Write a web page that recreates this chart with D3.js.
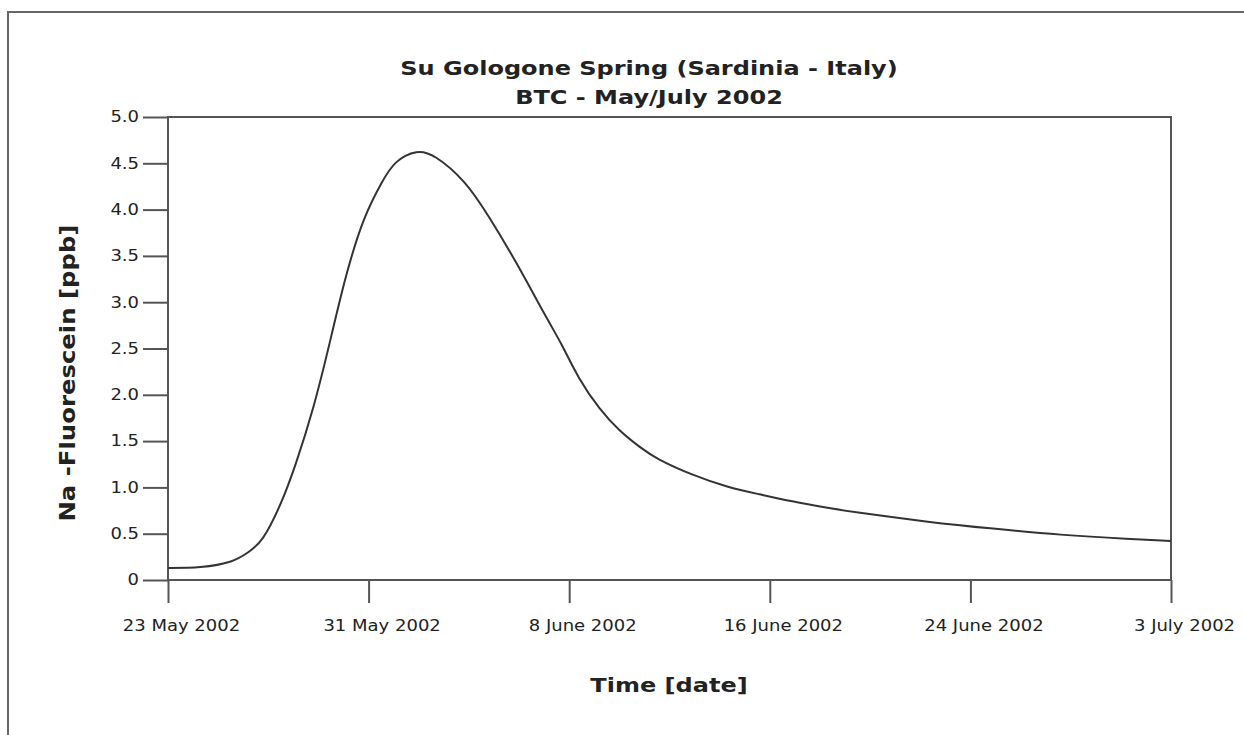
<!DOCTYPE html>
<html>
<head>
<meta charset="utf-8">
<script src="https://cdn.jsdelivr.net/npm/d3@7"></script>
<style>
  body { margin: 0; background: #fff; }
  svg { display: block; }
  text { font-family: "DejaVu Sans", Verdana, sans-serif; fill: #222; }
</style>
</head>
<body>
<div id="chart"></div>
<script>
// days since 23 May 2002 and Na-Fluorescein concentration (ppb)
var days = [0, 1.3, 2.5, 3.2, 3.8, 4.5, 5.1, 5.8, 6.5, 7.1, 7.8, 8.5, 9.1, 9.9, 10.7,
  11.8, 12.8, 13.9, 15.0, 15.7, 16.4, 17.2, 18.0, 18.8, 19.6, 20.9, 22.3, 23.6, 24.9,
  26.3, 27.6, 30.3, 32.9, 35.6, 38.2, 40];
var fluo = [0.13, 0.14, 0.2, 0.3, 0.46, 0.83, 1.26, 1.87, 2.62, 3.28, 3.88, 4.28, 4.51, 4.62, 4.56,
  4.30, 3.92, 3.42, 2.88, 2.54, 2.18, 1.86, 1.62, 1.44, 1.30, 1.14, 1.01, 0.925, 0.85,
  0.78, 0.725, 0.63, 0.555, 0.49, 0.445, 0.42];

var xTickDays = [0, 8, 16, 24, 32, 40];
var xTickLabels = ['23 May 2002', '31 May 2002', '8 June 2002', '16 June 2002', '24 June 2002', '3 July 2002'];
var yTicks = [0, 0.5, 1.0, 1.5, 2.0, 2.5, 3.0, 3.5, 4.0, 4.5, 5.0];

var titleLines = ['Su Gologone Spring (Sardinia - Italy)', 'BTC - May/July 2002'];
var xTitle = 'Time [date]';
var yTitle = 'Na -Fluorescein [ppb]';

(function() {
  var W = 1244, H = 735;
  var left = 168, right = 1171, top = 117, bottom = 580;
  var stretch = 1.2; // the original text looks widened horizontally

  var svg = d3.select('#chart').append('svg')
    .attr('width', W).attr('height', H);

  // outer frame (only left + top edges are visible)
  svg.append('path')
    .attr('d', 'M8,740 L8,12 L1250,12')
    .attr('fill', 'none')
    .attr('stroke', '#666')
    .attr('stroke-width', 2);

  var x = d3.scaleLinear().domain([0, 40]).range([left, right]);
  var y = d3.scaleLinear().domain([0, 5]).range([bottom, top]);

  function widen(sel) {
    sel.each(function() {
      var len = this.getComputedTextLength();
      d3.select(this).attr('textLength', len * stretch).attr('lengthAdjust', 'spacingAndGlyphs');
    });
  }

  // plot box
  svg.append('rect')
    .attr('x', left).attr('y', top)
    .attr('width', right - left).attr('height', bottom - top)
    .attr('fill', 'none')
    .attr('stroke', '#555')
    .attr('stroke-width', 2);

  var yAxis = svg.append('g')
    .attr('transform', 'translate(' + left + ',0)')
    .call(d3.axisLeft(y).tickValues(yTicks).tickSize(25).tickPadding(4)
      .tickFormat(function(d) { return d === 0 ? '0' : d.toFixed(1); }));

  var xAxis = svg.append('g')
    .attr('transform', 'translate(0,' + bottom + ')')
    .call(d3.axisBottom(x).tickValues(xTickDays).tickSize(23).tickPadding(17)
      .tickFormat(function(d, i) { return xTickLabels[i]; }));

  [yAxis, xAxis].forEach(function(g) {
    g.select('.domain').remove();
    g.selectAll('.tick line').attr('stroke', '#555').attr('stroke-width', 2);
    g.selectAll('.tick text')
      .style('font-family', '"DejaVu Sans", Verdana, sans-serif')
      .style('font-size', '15px')
      .attr('fill', '#2a2a2a')
      .call(widen);
  });
  // the date labels sit a bit right of their ticks in the original
  xAxis.selectAll('.tick text').attr('dx', 13);

  // the curve
  var pts = days.map(function(d, i) { return [d, fluo[i]]; });
  var line = d3.line()
    .x(function(d) { return x(d[0]); })
    .y(function(d) { return y(d[1]); })
    .curve(d3.curveNatural);

  svg.append('path')
    .datum(pts)
    .attr('d', line)
    .attr('fill', 'none')
    .attr('stroke', '#333')
    .attr('stroke-width', 2);

  // titles
  svg.selectAll('.title')
    .data(titleLines)
    .enter().append('text')
    .attr('class', 'title')
    .attr('x', 649)
    .attr('y', function(d, i) { return 75 + i * 29; })
    .attr('text-anchor', 'middle')
    .style('font-size', '20px')
    .style('font-weight', 'bold')
    .text(function(d) { return d; })
    .call(widen);

  svg.append('text')
    .attr('x', 669).attr('y', 692)
    .attr('text-anchor', 'middle')
    .style('font-size', '20px')
    .style('font-weight', 'bold')
    .text(xTitle)
    .call(widen);

  svg.append('text')
    .attr('transform', 'translate(75,373) rotate(-90)')
    .attr('text-anchor', 'middle')
    .style('font-size', '21px')
    .style('font-weight', 'bold')
    .attr('textLength', 297)
    .attr('lengthAdjust', 'spacingAndGlyphs')
    .text(yTitle);
})();
</script>
</body>
</html>
